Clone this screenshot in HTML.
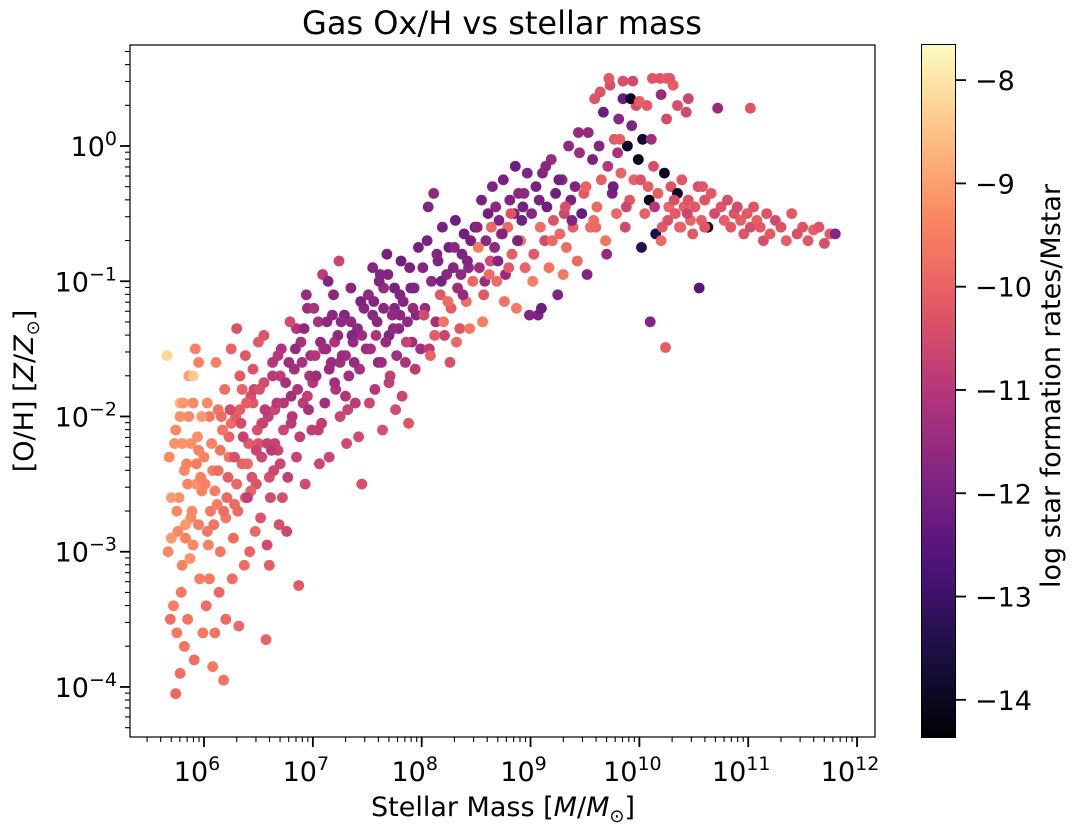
<!DOCTYPE html>
<html><head><meta charset="utf-8"><style>
html,body{margin:0;padding:0;background:#fff;}
svg{display:block;font-family:"DejaVu Sans","Liberation Sans",sans-serif;}
</style></head><body>
<svg id="chart" width="1076" height="832" viewBox="0 0 1076 832" xmlns="http://www.w3.org/2000/svg">
<defs><linearGradient id="magma" x1="0" y1="1" x2="0" y2="0">
<stop offset="0" stop-color="#000004"/><stop offset="0.125" stop-color="#1c1044"/><stop offset="0.25" stop-color="#4f127b"/><stop offset="0.375" stop-color="#812581"/><stop offset="0.5" stop-color="#b5367a"/><stop offset="0.625" stop-color="#e55964"/><stop offset="0.75" stop-color="#fb8761"/><stop offset="0.875" stop-color="#fec287"/><stop offset="1" stop-color="#fcfdbf"/>
</linearGradient></defs>
<rect x="0" y="0" width="1076" height="832" fill="#fff"/>
<text x="502" y="34" font-size="32" text-anchor="middle">Gas Ox/H vs stellar mass</text>
<g id="points"></g>
<g id="axes"></g>
<rect x="130" y="45" width="745" height="692" fill="none" stroke="#000" stroke-width="1.2"/>
<text x="503" y="816" font-size="27" text-anchor="middle">Stellar Mass [<tspan font-style="italic">M</tspan>/<tspan font-style="italic">M</tspan><tspan font-size="18" dy="6">⊙</tspan><tspan dy="-6">]</tspan></text>
<text transform="translate(33,391) rotate(-90)" font-size="27" text-anchor="middle">[O/H] [<tspan font-style="italic">Z</tspan>/<tspan font-style="italic">Z</tspan><tspan font-size="18" dy="6">⊙</tspan><tspan dy="-6">]</tspan></text>
<rect x="921.5" y="44.5" width="34" height="693" fill="url(#magma)" stroke="#000" stroke-width="1"/>
<g id="cbar"></g>
<text transform="translate(1060,386) rotate(-90)" font-size="27" text-anchor="middle">log star formation rates/Mstar</text>
</svg>
<script>
const mass = [
5.75,5.8,5.85,5.9,5.95,6.0,6.05,6.1,6.15,6.2,6.25,6.3,6.35,6.4,6.45,6.5,6.55,6.6,6.65,6.7,
5.78,5.83,5.88,5.93,5.98,6.03,6.08,6.13,6.18,6.23,6.28,6.33,6.38,6.43,6.48,6.53,6.58,6.63,6.68,6.73,
6.8,6.9,7.0,7.1,7.2,7.3,6.85,6.95,7.05,7.15,7.25,7.35,7.45,7.55,7.65,7.75,7.6,7.7,7.8,7.9,
5.66,5.68,5.7,5.72,5.74,5.75,5.77,5.78,5.8,5.82,5.83,5.85,5.86,5.88,5.9,5.91,5.93,5.95,5.96,5.98,
5.67,5.7,5.73,5.76,5.79,5.81,5.84,5.87,5.89,5.92,5.94,5.97,5.99,5.69,5.74,5.78,5.82,5.86,5.9,5.95,
6.01,6.03,6.05,6.07,6.09,6.11,6.13,6.15,6.17,6.19,6.21,6.23,6.25,6.27,6.29,6.31,6.33,6.35,6.37,6.39,
6.41,6.43,6.45,6.47,6.49,6.02,6.06,6.1,6.14,6.18,6.22,6.26,6.3,6.34,6.38,6.42,6.46,6.04,6.12,6.2,
6.28,6.36,6.44,6.08,6.16,6.24,6.32,6.4,6.48,6.5,
6.51,6.53,6.55,6.57,6.59,6.61,6.63,6.65,6.67,6.69,6.71,6.73,6.75,6.77,6.79,6.81,6.83,6.85,6.87,6.89,
6.91,6.93,6.95,6.97,6.99,6.52,6.56,6.6,6.64,6.68,6.72,6.76,6.8,6.84,6.88,6.92,6.96,6.54,6.62,6.7,
6.78,6.86,6.94,6.58,6.98,
7.01,7.03,7.05,7.07,7.09,7.11,7.13,7.15,7.17,7.19,7.21,7.23,7.25,7.27,7.29,7.31,7.33,7.35,7.37,7.39,
7.41,7.43,7.45,7.47,7.49,7.02,7.08,7.14,7.2,7.26,7.32,7.38,7.44,7.06,7.18,7.3,7.42,7.12,7.24,7.36,
7.51,7.53,7.55,7.57,7.59,7.61,7.63,7.65,7.67,7.69,7.71,7.73,7.75,7.77,7.79,7.81,7.83,7.85,7.87,7.89,
7.91,7.93,7.95,7.97,7.99,7.52,7.58,7.64,7.7,7.76,7.82,7.88,7.94,7.56,7.68,7.8,7.92,7.62,7.74,7.86,
8.01,8.03,8.05,8.07,8.09,8.11,8.13,8.15,8.17,8.19,8.21,8.23,8.25,8.27,8.29,8.31,8.33,8.35,8.37,8.39,
8.41,8.43,8.45,8.47,8.49,8.02,8.08,8.14,8.2,8.26,8.32,8.38,8.44,8.06,8.18,8.3,8.42,8.12,8.24,8.36,
8.51,8.53,8.55,8.57,8.59,8.61,8.63,8.65,8.67,8.69,8.71,8.73,8.75,8.77,8.79,8.81,8.83,8.85,8.87,8.89,
8.91,8.93,8.95,8.97,8.99,8.52,8.58,8.64,8.7,8.76,8.82,8.88,8.94,8.56,8.68,8.8,8.92,8.62,8.74,8.86,
9.01,9.03,9.05,9.07,9.09,9.11,9.13,9.15,9.17,9.19,9.21,9.23,9.25,9.27,9.29,9.31,9.33,9.35,9.37,9.39,
9.41,9.43,9.45,9.47,9.49,9.02,9.08,9.14,9.2,9.26,9.32,9.38,9.44,9.1,9.3,
9.51,9.53,9.55,9.57,9.59,9.61,9.63,9.65,9.67,9.69,9.71,9.73,9.75,9.77,9.79,9.81,9.83,9.85,9.87,9.89,
9.91,9.93,9.95,9.97,9.99,9.52,9.58,9.64,9.7,9.76,9.82,9.88,9.94,9.6,9.8,
10.01,10.03,10.05,10.07,10.09,10.11,10.13,10.15,10.17,10.19,10.21,10.23,10.25,10.27,10.29,10.31,10.33,10.35,10.37,10.39,
10.41,10.43,10.45,10.47,10.49,10.02,10.08,10.14,10.2,10.26,10.32,10.38,10.44,10.1,10.24,
10.51,10.54,10.57,10.6,10.63,10.66,10.69,10.72,10.75,10.78,10.81,10.84,10.87,10.9,10.93,10.96,10.99,11.02,11.05,11.08,
11.11,11.14,11.17,11.2,11.25,11.3,11.35,11.4,11.45,11.5,11.55,11.6,11.65,11.7,11.75,11.8,10.55,10.6,10.58,11.02,
9.72,9.85,9.92,10.0,10.12,10.2,10.25,10.28,10.35,10.45
];
const logOH = [
-2.7,-2.2,-2.5,-1.9,-2.8,-2.3,-2.0,-2.55,-2.25,-2.75,-2.05,-2.5,-1.8,-2.35,-1.9,-2.2,-1.75,-2.45,-1.95,-1.7,
-2.0,-2.9,-2.75,-2.35,-2.55,-2.85,-2.4,-1.95,-2.7,-2.15,-2.65,-1.95,-2.6,-1.85,-2.5,-2.05,-2.2,-1.7,-2.25,-1.9,
-2.05,-1.6,-1.75,-1.5,-1.45,-1.55,-1.35,-1.85,-1.3,-1.65,-1.6,-1.3,-1.4,-1.25,-1.05,-1.2,-1.6,-1.4,-1.25,-1.05,
-1.55,-2.3,-2.9,-3.4,-2.1,-3.6,-2.6,-1.9,-3.1,-2.4,-2.8,-3.5,-1.7,-2.2,-2.95,-3.8,-2.5,-1.6,-3.2,-2.0,
-3.0,-2.6,-2.2,-2.85,-3.3,-1.9,-2.35,-3.05,-2.7,-1.5,-2.15,-2.45,-3.6,-3.5,-4.05,-3.9,-3.7,-2.0,-1.7,-2.25,
-2.5,-1.9,-3.2,-2.2,-2.8,-1.6,-2.4,-3.0,-2.1,-1.8,-2.6,-2.3,-1.5,-2.9,-2.0,-2.7,-1.7,-2.35,-3.1,-1.9,
-2.2,-2.55,-1.65,-2.85,-2.1,-3.4,-2.7,-3.6,-3.3,-3.95,-2.45,-3.2,-1.35,-2.05,-1.55,-3.0,-1.8,-2.95,-2.65,-3.5,
-2.3,-2.15,-2.45,-3.85,-2.0,-1.95,-3.55,-2.6,-2.25,-1.45,
-1.8,-2.3,-1.4,-3.65,-2.0,-2.6,-1.6,-2.2,-1.9,-2.8,-1.5,-2.1,-1.75,-2.45,-1.3,-2.0,-1.65,-2.3,-3.25,-1.45,
-1.9,-2.5,-1.2,-1.7,-2.1,-2.75,-1.95,-3.1,-2.4,-1.55,-2.6,-2.85,-1.85,-1.5,-2.15,-1.35,-1.95,-2.05,-2.25,-2.35,
-1.6,-1.8,-1.1,-2.95,-1.55,
-1.2,-1.7,-2.1,-1.45,-0.95,-1.9,-1.3,-2.3,-1.6,-1.1,-1.8,-1.4,-2.0,-1.55,-1.25,-2.2,-1.7,-1.05,-1.45,-1.9,
-1.35,-1.65,-2.5,-1.2,-1.5,-1.55,-2.05,-1.0,-1.75,-1.3,-1.95,-1.6,-1.15,-2.35,-1.25,-1.85,-2.15,-1.5,-0.85,-1.4,
-1.1,-1.5,-0.9,-1.8,-1.3,-1.0,-1.6,-1.2,-1.45,-0.95,-1.7,-1.25,-1.05,-1.55,-1.35,-0.85,-1.15,-1.6,-1.3,-0.9,
-1.45,-1.05,-1.25,-0.75,-1.5,-1.9,-1.4,-2.1,-1.75,-1.95,-1.85,-2.05,-1.65,-1.15,-0.8,-1.1,-1.2,-0.95,-1.35,-1.45,
-0.9,-1.2,-0.7,-1.5,-1.0,-0.35,-1.3,-0.85,-1.1,-0.6,-1.4,-0.95,-0.75,-1.2,-0.9,-0.55,-1.05,-1.35,-0.8,-0.65,
-1.15,-0.9,-0.7,-1.0,-0.6,-1.25,-1.55,-0.8,-1.3,-1.6,-1.45,-1.1,-1.35,-0.45,-1.0,-0.75,-0.85,-1.4,-1.15,-0.95,
-0.6,-0.9,-0.4,-1.1,-0.7,-0.5,-0.85,-0.3,-0.75,-1.0,-0.55,-0.65,-0.25,-0.95,-0.6,-0.4,-0.8,-0.5,-1.2,-0.35,
-0.7,-0.45,-0.9,-0.2,-1.25,-0.75,-1.0,-0.6,-0.85,-1.15,-0.5,-0.7,-0.35,-1.3,-0.45,-0.9,-0.55,-0.95,-0.65,-0.15,
-0.5,-0.8,-0.3,-1.25,-0.6,-0.2,-0.7,-0.45,-0.9,-0.1,-0.55,-0.35,-1.1,-0.65,-0.25,-0.5,-0.75,0.0,-0.4,-0.6,
-0.3,-0.85,-0.05,-0.5,-0.35,-1.0,-0.4,-0.15,-0.7,-0.25,-0.45,-0.55,0.1,-1.2,-0.95,
-0.3,0.1,-0.6,-0.1,0.35,-0.45,0.0,-0.25,0.25,-0.7,-0.15,0.45,-0.35,0.05,-0.5,0.2,-0.2,0.35,-0.6,0.0,
-0.4,0.15,-0.25,0.3,-0.1,-0.95,-0.55,0.4,-0.8,-0.3,0.05,-0.45,0.48,-0.6,-0.05,
-0.25,0.05,-0.5,0.3,-0.4,0.05,-0.15,-0.65,-0.35,0.5,-0.6,-0.2,0.2,-0.45,-0.3,0.45,-0.5,-0.35,-0.6,-0.25,
-0.45,0.25,-0.4,-0.55,-0.65,-0.75,-0.3,-0.45,-0.7,-0.55,-0.4,-0.6,-0.5,-1.3,-1.49,
-0.45,-0.3,-0.55,-0.4,-0.6,-0.35,-0.5,0.28,-0.45,-0.55,-0.4,-0.6,-0.5,-0.45,-0.55,-0.65,-0.5,-0.6,-0.45,-0.55,
-0.6,-0.7,-0.5,-0.65,-0.55,-0.6,-0.7,-0.5,-0.65,-0.6,-0.7,-0.62,-0.6,-0.72,-0.65,-0.65,-1.05,-0.6,-0.3,0.28,
0.5,0.48,0.35,0.33,0.5,0.38,0.5,0.5,0.3,0.35
];
const ssfr = [
-9.3,-9.2,-9.4,-9.3,-9.5,-9.4,-9.6,-9.5,-9.7,-9.6,-9.8,-9.9,-10.0,-9.9,-10.2,-10.3,-10.5,-10.4,-10.6,-10.8,
-9.2,-9.4,-9.3,-9.5,-9.4,-9.6,-9.5,-9.7,-9.8,-10.0,-9.9,-10.1,-10.2,-10.4,-10.3,-10.5,-10.7,-10.9,-10.6,-11.0,
-10.9,-11.2,-11.0,-11.3,-11.1,-11.4,-11.0,-10.8,-11.2,-11.5,-11.3,-11.6,-11.4,-11.7,-11.5,-11.8,-11.6,-11.9,-11.7,-11.8,
-8.2,-9.3,-9.1,-9.5,-9.3,-9.6,-9.2,-8.7,-9.4,-9.3,-9.1,-9.7,-9.0,-9.2,-9.3,-9.8,-9.2,-9.4,-9.5,-9.1,
-9.3,-9.0,-9.2,-9.3,-9.6,-9.1,-9.4,-9.2,-9.3,-9.5,-9.2,-9.4,-9.6,-9.8,-9.9,-9.8,-9.7,-9.3,-8.4,-9.4,
-9.5,-9.3,-9.6,-9.4,-9.7,-9.5,-9.8,-9.6,-9.7,-9.8,-9.9,-9.7,-10.0,-9.8,-10.1,-9.9,-10.2,-10.0,-9.8,-10.1,
-10.2,-10.0,-10.3,-9.9,-10.4,-9.8,-9.6,-9.7,-9.9,-9.7,-10.1,-9.8,-10.3,-10.5,-10.2,-10.0,-10.6,-9.4,-9.5,-9.9,
-10.4,-10.7,-10.3,-9.6,-9.8,-10.5,-9.9,-10.8,-10.6,-10.2,
-10.4,-10.6,-10.3,-10.0,-10.8,-10.5,-11.0,-10.7,-10.9,-10.4,-11.1,-10.6,-11.2,-10.8,-10.5,-11.0,-11.3,-10.7,-10.2,-11.2,
-10.9,-10.5,-11.4,-11.1,-10.8,-10.3,-10.9,-10.1,-10.6,-11.0,-10.4,-10.6,-11.3,-11.5,-10.8,-11.6,-11.2,-10.7,-10.9,-10.6,
-11.4,-11.1,-11.5,-10.5,-11.3,
-11.2,-11.4,-10.8,-11.5,-10.9,-11.3,-11.6,-10.6,-11.5,-11.7,-11.1,-11.6,-10.7,-11.4,-11.8,-10.5,-11.3,-11.7,-11.5,-10.9,
-11.6,-11.2,-10.4,-11.7,-11.4,-11.0,-10.8,-11.8,-11.3,-11.6,-10.7,-11.5,-11.9,-10.6,-11.7,-11.0,-10.5,-11.4,-10.6,-11.8,
-11.6,-11.3,-11.8,-11.0,-11.7,-11.9,-11.4,-11.7,-11.5,-11.9,-10.8,-11.6,-12.0,-11.3,-11.7,-12.1,-11.8,-11.2,-11.6,-12.0,
-11.4,-11.9,-11.7,-12.1,-11.3,-10.6,-11.1,-10.4,-10.8,-10.5,-10.6,-10.3,-10.9,-11.8,-12.0,-11.9,-11.5,-11.8,-11.6,-10.7,
-11.8,-11.5,-12.0,-10.9,-11.7,-11.6,-11.3,-11.9,-10.2,-12.0,-10.6,-11.7,-12.1,-10.1,-11.8,-12.2,-11.4,-10.3,-11.9,-12.1,
-9.8,-11.6,-12.0,-9.9,-12.1,-10.5,-10.0,-11.8,-9.7,-10.4,-9.9,-11.5,-9.6,-11.9,-12.0,-11.7,-11.8,-10.1,-9.8,-11.6,
-11.8,-11.3,-12.0,-10.2,-11.7,-12.1,-10.5,-11.9,-11.6,-9.8,-11.9,-10.3,-12.0,-11.5,-9.9,-11.8,-10.1,-12.1,-9.6,-11.7,
-9.7,-12.0,-10.0,-11.9,-11.8,-9.6,-11.4,-9.9,-11.8,-9.7,-10.3,-12.0,-11.6,-9.5,-11.7,-10.2,-12.1,-9.8,-11.9,-12.2,
-11.7,-10.2,-12.0,-11.9,-9.8,-11.8,-10.5,-12.1,-9.7,-11.5,-10.3,-12.2,-11.9,-9.9,-11.7,-10.6,-9.8,-11.6,-12.0,-10.1,
-11.8,-9.9,-11.4,-12.3,-10.2,-9.5,-12.0,-11.7,-9.9,-12.1,-10.4,-11.9,-11.5,-12.2,-9.6,
-10.0,-11.6,-9.8,-12.0,-10.3,-9.9,-11.8,-10.1,-12.2,-9.7,-11.0,-10.4,-12.0,-10.2,-9.9,-11.7,-10.0,-12.3,-10.5,-13.9,
-10.2,-11.9,-10.0,-10.4,-14.0,-11.8,-9.8,-10.3,-11.5,-12.1,-10.1,-10.6,-10.5,-9.9,-11.2,
-10.3,-13.8,-10.0,-10.2,-14.1,-11.3,-10.4,-13.5,-10.1,-10.3,-10.2,-14.0,-10.5,-10.0,-10.3,-10.1,-10.2,-13.9,-10.4,-10.2,
-10.1,-10.5,-10.3,-10.0,-10.2,-13.4,-10.1,-11.0,-9.9,-10.3,-10.4,-10.0,-10.6,-11.8,-10.1,
-10.2,-10.4,-10.1,-10.3,-13.8,-10.2,-10.5,-11.5,-10.3,-10.1,-10.4,-10.2,-10.3,-10.5,-10.1,-10.3,-10.2,-10.4,-10.3,-10.1,
-10.2,-10.4,-10.3,-10.2,-10.5,-10.3,-10.1,-10.2,-10.4,-10.3,-10.2,-10.1,-10.3,-10.4,-10.2,-11.8,-12.5,-10.3,-10.2,-10.3,
-10.2,-10.4,-14.0,-10.1,-10.3,-11.5,-10.0,-10.2,-10.4,-10.6
];
const xTickExps = [6,7,8,9,10,11,12];
const yTickExps = [0,-1,-2,-3,-4];
const cTicks = [-8,-9,-10,-11,-12,-13,-14];

const X0=130,X1=875,Y0=45,Y1=737;
const xMin=5.32,xMax=12.165,yMin=-4.37,yMax=0.747,cMin=-14.36,cMax=-7.66;
const xs=v=>X0+(v-xMin)/(xMax-xMin)*(X1-X0);
const ys=v=>Y1-(v-yMin)/(yMax-yMin)*(Y1-Y0);
const cs=v=>737-(v-cMin)/(cMax-cMin)*692;
const stops=[[0,0,0,4],[0.125,28,16,68],[0.25,79,18,123],[0.375,129,37,129],[0.5,181,54,122],[0.625,229,89,100],[0.75,251,135,97],[0.875,254,194,135],[1,252,253,191]];
function magma(v){let t=Math.max(0,Math.min(1,(v-cMin)/(cMax-cMin)));
for(let i=1;i<stops.length;i++){if(t<=stops[i][0]){const a=stops[i-1],b=stops[i],f=(t-a[0])/(b[0]-a[0]);
return `rgb(${[1,2,3].map(k=>Math.round(a[k]+(b[k]-a[k])*f)).join(',')})`;}}return 'rgb(252,253,191)';}
const NS='http://www.w3.org/2000/svg';
function mk(tag,attrs,parent){const e=document.createElementNS(NS,tag);for(const k in attrs)e.setAttribute(k,attrs[k]);parent.appendChild(e);return e;}
const pg=document.getElementById('points');
const n=Math.min(mass.length,logOH.length,ssfr.length);
for(let i=0;i<n;i++){
 const c=mk('circle',{cx:xs(mass[i]).toFixed(1),cy:ys(logOH[i]).toFixed(1),r:5.4,fill:magma(ssfr[i])},pg);
 
 
}
const ax=document.getElementById('axes');
for(let d=5;d<=12;d++){for(let m=1;m<10;m++){const v=d+Math.log10(m);if(v<xMin||v>xMax)continue;const x=xs(v);
 mk('line',{x1:x,x2:x,y1:Y1,y2:Y1+(m==1?10:5),stroke:'#000','stroke-width':m==1?1.8:1.1},ax);}}
for(let d=-5;d<=0;d++){for(let m=1;m<10;m++){const v=d+Math.log10(m);if(v<yMin||v>yMax)continue;const y=ys(v);
 mk('line',{x1:X0,x2:X0-(m==1?10:5),y1:y,y2:y,stroke:'#000','stroke-width':m==1?1.8:1.1},ax);}}
xTickExps.forEach(e=>{const t=mk('text',{x:xs(e)-7,y:781,'font-size':27,'text-anchor':'middle'},ax);
 
 
 t.innerHTML=`10<tspan font-size="19" dy="-11">${e}</tspan>`;});
yTickExps.forEach(e=>{const t=mk('text',{x:117,y:ys(e)+10,'font-size':27,'text-anchor':'end'},ax);
 
 
 t.innerHTML=`10<tspan font-size="19" dy="-11">${e<0?'−'+(-e):e}</tspan>`;});
const cb=document.getElementById('cbar');
cTicks.forEach(v=>{const y=cs(v);mk('line',{x1:955.5,x2:966,y1:y,y2:y,stroke:'#000','stroke-width':1.8},cb);
 const t=mk('text',{x:975,y:y+10,'font-size':27},cb);
 
 
 t.textContent='−'+(-v);});
</script>
</body></html>
